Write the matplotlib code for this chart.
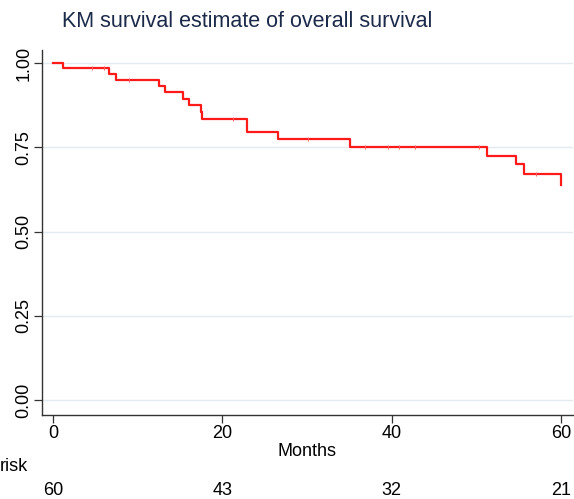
import matplotlib
matplotlib.use('Agg')
import matplotlib.pyplot as plt

plt.rcParams['font.family'] = ['Liberation Sans', 'DejaVu Sans']

# Kaplan-Meier step curve (time in months, survival estimate)
times = [0, 1.15, 6.6, 7.4, 12.5, 13.2, 15.3, 16.1, 17.5, 17.6, 22.9, 26.6, 35.1, 51.3, 54.7, 55.6, 60.0]
surv = [1.0, 0.985, 0.968, 0.950, 0.932, 0.913, 0.894, 0.875, 0.855, 0.835, 0.795, 0.776, 0.752, 0.725, 0.699, 0.670, 0.639]
# censored observations (tick marks on curve)
cens_t = [4.6, 6.0, 9.0, 21.3, 30.1, 36.8, 39.6, 40.8, 42.7, 50.3, 57.0]

risk_t = [0, 20, 40, 60]
risk_n = [60, 43, 32, 21]

def surv_at(t):
    s = surv[0]
    for ti, si in zip(times, surv):
        if ti <= t:
            s = si
    return s

fig = plt.figure(figsize=(5.74, 4.99), dpi=100)
ax = fig.add_axes([0.0732, 0.168, 0.925, 0.732])

ax.step(times, surv, where='post', color='#ff1a1a', lw=1.6)
ax.plot(cens_t, [surv_at(t) for t in cens_t], ls='none', marker='|',
        color='#ff6060', ms=3, mew=0.7)

ax.set_xlim(-1.3, 61.4)
ax.set_ylim(-0.045, 1.039)
ax.set_yticks([0, 0.25, 0.5, 0.75, 1.0])
ax.set_yticklabels(['0.00', '0.25', '0.50', '0.75', '1.00'], rotation=90, va='center')
ax.set_xticks(risk_t)
ax.grid(axis='y', color='#e3eaf0', lw=1)
ax.set_axisbelow(True)

for s in ['top', 'right']:
    ax.spines[s].set_visible(False)
for s in ['left', 'bottom']:
    ax.spines[s].set_color('#333333')
    ax.spines[s].set_linewidth(1.0)
ax.tick_params(length=6, width=0.9, color='#333333', labelsize=13, pad=1)

ax.set_xlabel('Months', fontsize=13, labelpad=1)
fig.text(0.108, 0.957, 'KM survival estimate of overall survival', fontsize=15.5,
         color='#1c2a4a', va='center')

fig.text(0.0, 0.066, 'risk', fontsize=13, va='center')
for t, n in zip(risk_t, risk_n):
    xf = ax.transData.transform((t, 0))[0] / fig.bbox.width
    fig.text(xf, 0.018, str(n), fontsize=13, ha='center', va='center')

fig.savefig('out.png', dpi=100)
